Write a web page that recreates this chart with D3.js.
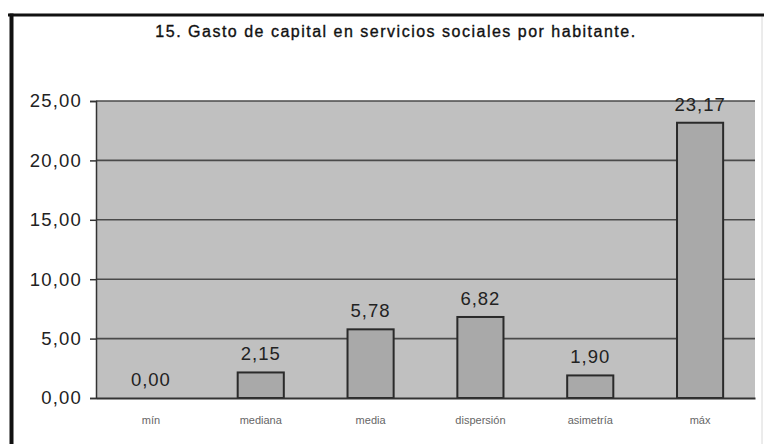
<!DOCTYPE html>
<html>
<head>
<meta charset="utf-8">
<script src="https://cdn.jsdelivr.net/npm/d3@7"></script>
<style>
html,body{margin:0;padding:0;background:#fff;}
svg{display:block;}
</style>
</head>
<body>
<svg id="chart" width="764" height="444"></svg>
<script>
const title = "15. Gasto de capital en servicios sociales por habitante.";
const categories = ["mín", "mediana", "media", "dispersión", "asimetría", "máx"];
const values = [0.00, 2.15, 5.78, 6.82, 1.90, 23.17];
const yTicks = [0, 5, 10, 15, 20, 25];

const svg = d3.select("#chart");
const W = 764, H = 444;
const plot = {left: 96, right: 755, top: 101, bottom: 398};

// outer frame
svg.append("rect").attr("x", 0).attr("y", 0).attr("width", W).attr("height", H).attr("fill", "#fff");
svg.append("line").attr("x1", 762).attr("x2", 762).attr("y1", 14).attr("y2", H)
  .attr("stroke", "#d8d8d8").attr("stroke-width", 1);
svg.append("line").attr("x1", 8).attr("x2", W).attr("y1", 15).attr("y2", 15)
  .attr("stroke", "#111").attr("stroke-width", 3);
svg.append("line").attr("x1", 11.5).attr("x2", 11.5).attr("y1", 13.5).attr("y2", H)
  .attr("stroke", "#111").attr("stroke-width", 4);

// title
svg.append("text").attr("x", 396).attr("y", 37).attr("text-anchor", "middle")
  .attr("font-family", "Arial, 'Liberation Sans', sans-serif").attr("font-size", 16)
  .attr("letter-spacing", "1.5px").attr("fill", "#111").attr("stroke", "#111").attr("stroke-width", 0.35)
  .text(title);

const x = d3.scaleBand().domain(categories).range([plot.left, plot.right])
  .paddingInner(0.58).paddingOuter(0.29);
const y = d3.scaleLinear().domain([0, 25]).range([plot.bottom, plot.top]);

// plot background
svg.append("rect").attr("x", plot.left).attr("y", plot.top)
  .attr("width", plot.right - plot.left).attr("height", plot.bottom - plot.top)
  .attr("fill", "#c0c0c0");

// gridlines
svg.append("g").selectAll("line").data(yTicks.filter(d => d > 0)).join("line")
  .attr("x1", plot.left).attr("x2", plot.right)
  .attr("y1", d => y(d)).attr("y2", d => y(d))
  .attr("stroke", "#4a4a4a").attr("stroke-width", 1.6);

// bars
svg.append("g").selectAll("rect").data(values).join("rect")
  .attr("x", (d, i) => x(categories[i]))
  .attr("y", d => y(d))
  .attr("width", x.bandwidth())
  .attr("height", d => y(0) - y(d))
  .attr("fill", "#a9a9a9").attr("stroke", "#2a2a2a").attr("stroke-width", 2);

// value labels
svg.append("g").selectAll("text").data(values).join("text")
  .attr("x", (d, i) => x(categories[i]) + x.bandwidth() / 2)
  .attr("y", d => y(d) - 12)
  .attr("text-anchor", "middle")
  .attr("font-family", "Arial, 'Liberation Sans', sans-serif").attr("font-size", 18.5)
  .attr("letter-spacing", "1px").attr("fill", "#222")
  .text(d => d.toFixed(2).replace(".", ","));

// y axis
const yAxis = d3.axisLeft(y).tickValues(yTicks).tickSize(6).tickPadding(8)
  .tickFormat(d => d.toFixed(2).replace(".", ","));
const gy = svg.append("g").attr("transform", `translate(${plot.left},0)`).call(yAxis);
gy.select(".domain").attr("stroke", "#333").attr("stroke-width", 1.5);
gy.selectAll(".tick line").attr("stroke", "#333").attr("stroke-width", 1.5);
gy.selectAll("text").attr("font-family", "Arial, 'Liberation Sans', sans-serif")
  .attr("font-size", 18.5).attr("letter-spacing", "1.2px").attr("fill", "#222");

// x axis
const xAxis = d3.axisBottom(x).tickSize(0).tickPadding(18);
const gx = svg.append("g").attr("transform", `translate(0,${plot.bottom})`).call(xAxis);
gx.select(".domain").attr("stroke", "#333").attr("stroke-width", 2);
gx.selectAll("text").attr("font-family", "Arial, 'Liberation Sans', sans-serif")
  .attr("font-size", 11).attr("fill", "#666");
</script>
</body>
</html>
